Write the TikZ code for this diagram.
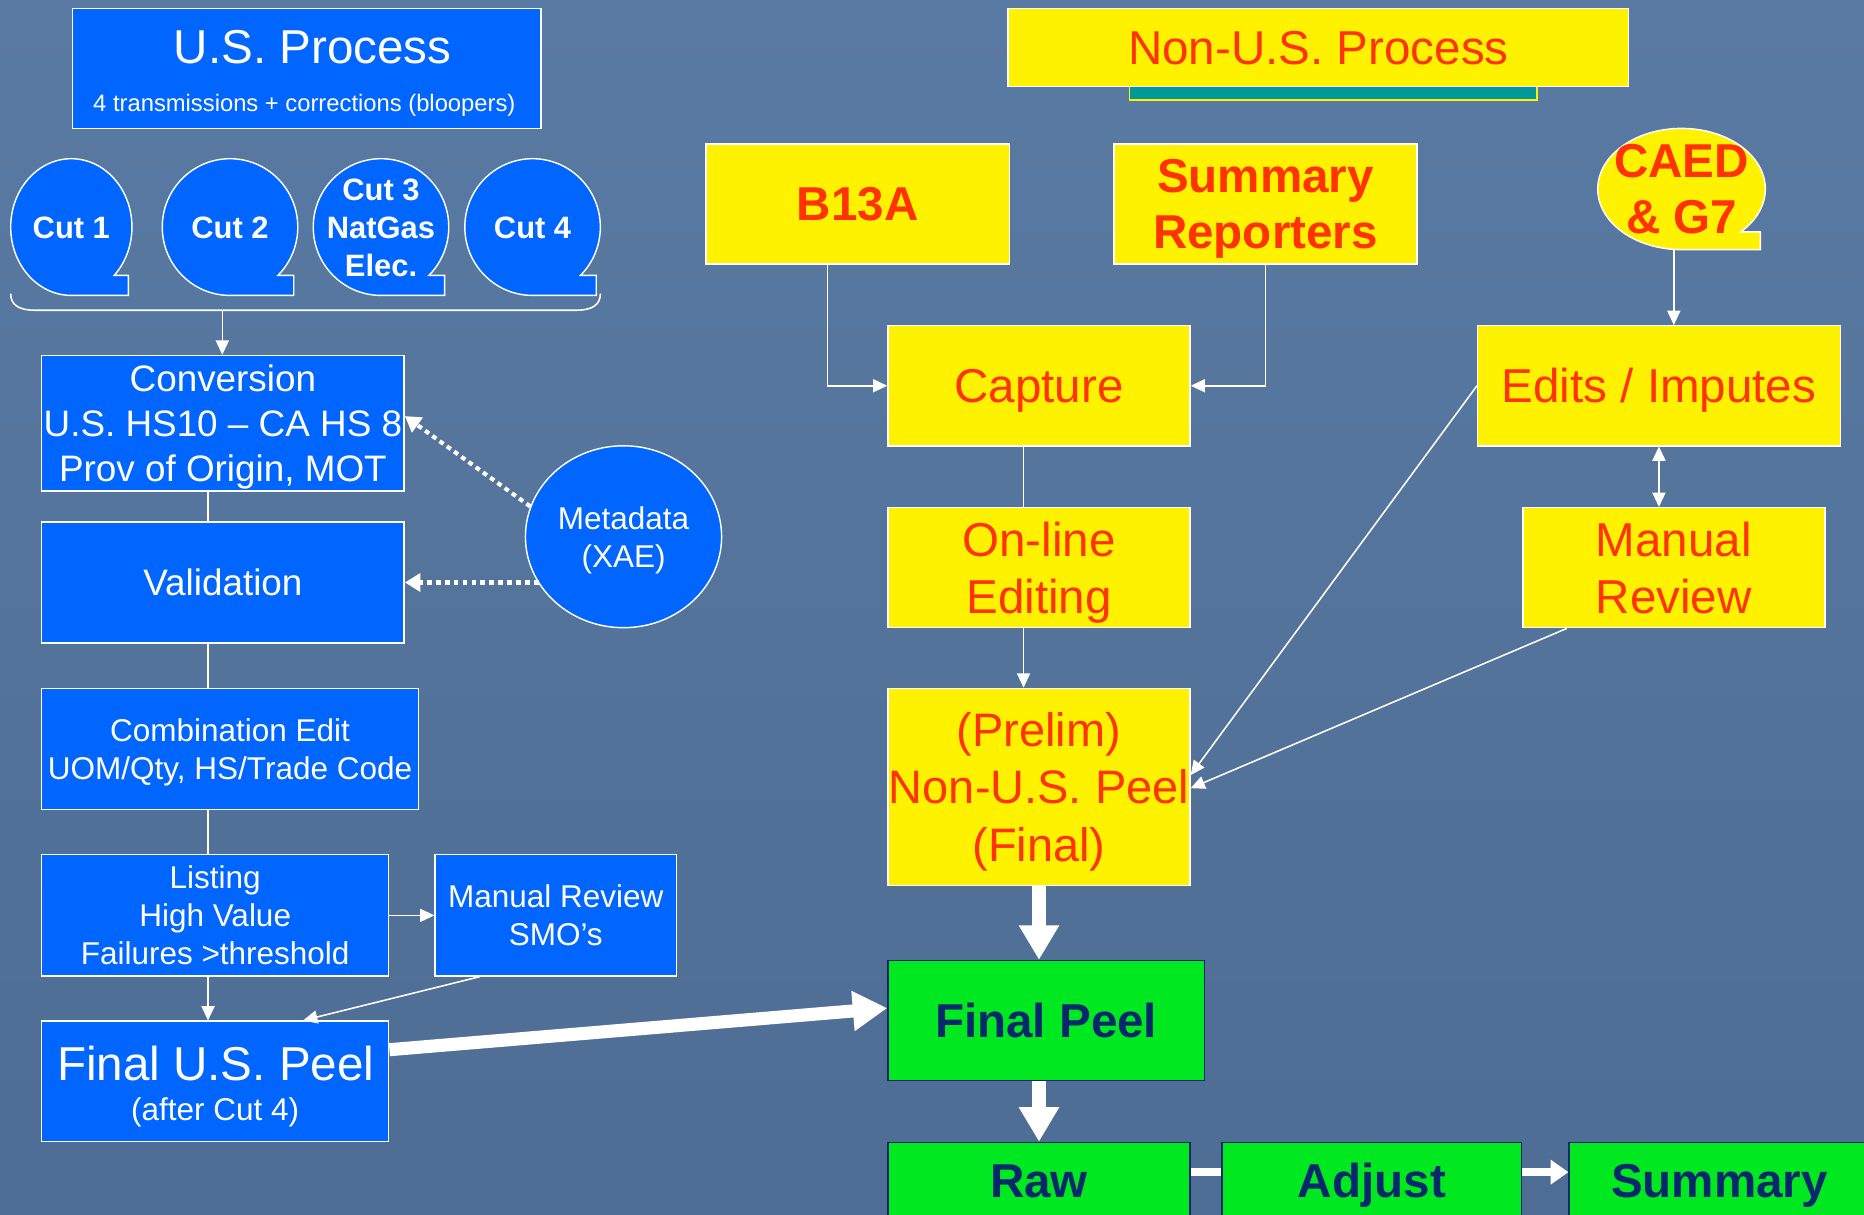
\documentclass[tikz,border=0pt]{standalone}
\usepackage{fontspec}
\setmainfont{Liberation Sans}
\usetikzlibrary{arrows.meta,shapes.geometric}

\definecolor{slidetop}{RGB}{89,122,162}
\definecolor{slidebot}{RGB}{78,109,149}
\definecolor{usblue}{RGB}{0,102,255}
\definecolor{nonusred}{RGB}{255,51,0}
\definecolor{peelgreen}{RGB}{0,232,32}
\definecolor{peelnavy}{RGB}{8,40,110}
\definecolor{barteal}{RGB}{0,153,153}

\begin{document}
\begin{tikzpicture}[x=1pt, y=-1pt,
  usbox/.style={rectangle, draw=white, line width=1.2pt, fill=usblue, text=white,
    align=center, inner sep=0pt, text depth=0pt, font=\fontsize{26.5}{32}\selectfont},
  ustext/.style={text=white, inner sep=0pt, align=center},
  nonusbox/.style={rectangle, draw=white, line width=1.2pt, fill=yellow, text=nonusred,
    align=center, inner sep=0pt, text depth=0pt, font=\fontsize{40}{48.5}\selectfont},
  boldred/.style={font=\bfseries\fontsize{40}{47}\selectfont},
  peelbox/.style={rectangle, draw=peelnavy, line width=1.2pt, fill=peelgreen, text=peelnavy,
    inner sep=0pt, text height=29pt, text depth=0pt, font=\bfseries\fontsize{40}{47}\selectfont},
  tapeshape/.style={draw=white, line width=1.2pt},
  wire/.style={white, line width=1.3pt},
  link/.style={wire, -{Triangle[length=12pt, width=11pt]}},
  duallink/.style={wire, {Triangle[length=12pt, width=11pt]}-{Triangle[length=12pt, width=11pt]}},
  dotlink/.style={white, line width=3.5pt, dash pattern=on 4pt off 3.5pt, -{Triangle[length=13pt, width=15pt]}},
  biglink/.style={white, line width=11pt, -{Triangle[length=29pt, width=32pt]}},
  midlink/.style={white, line width=6.5pt, -{Triangle[length=15pt, width=20pt]}}
]
\useasboundingbox (0,0) rectangle (1568,1022);
\shade[top color=slidetop, bottom color=slidebot] (0,0) rectangle (1568,1022);
\clip (0,0) rectangle (1568,1022);

% U.S. process
\node[usbox, minimum width=394, minimum height=101] (usproc) at (258,57.5) {};
\node[ustext, font=\fontsize{40}{48}\selectfont] (usproctitle) at (263,40) {U.S. Process};
\node[ustext, font=\fontsize{20}{24}\selectfont] (usprocsub) at (256,89) {4 transmissions + corrections (bloopers)};

\foreach \n/\cx/\rx/\txt in {cut1/60/51/{Cut 1}, cut2/193.5/57/{Cut 2},
    cut3/320.5/57/{Cut 3\\NatGas\\Elec.}, cut4/448/57/{Cut 4}} {
  \draw[tapeshape, fill=usblue] (\cx,191) ++(0,57.5)
    arc[start angle=90, end angle=405, x radius=\rx, y radius=57.5]
    -- ++({0.233*\rx},0) -- ++(0,16.8) -- cycle;
  \node[ustext, font=\bfseries\fontsize{26}{32}\selectfont] (\n) at (\cx,191.5) {\txt};
}
\coordinate (cutsbrace) at (187,261);
\draw[wire] (9,247) .. controls (9,256) and (15,261) .. (30,261) -- (484,261)
  .. controls (499,261) and (505,256) .. (505,247);

\node[usbox, minimum width=305, minimum height=114, font=\fontsize{31}{37.5}\selectfont] (conv) at (187.5,356)
  {Conversion\\U.S. HS10 – CA HS 8\\Prov of Origin, MOT};
\node[usbox, minimum width=305, minimum height=102, font=\fontsize{31}{37.5}\selectfont] (valid) at (187.5,490) {Validation};
\node[usbox, minimum width=317, minimum height=102] (combo) at (193.5,630) {Combination Edit\\UOM/Qty, HS/Trade Code};
\node[usbox, minimum width=292, minimum height=102] (listing) at (181,770) {Listing\\High Value\\Failures >threshold};
\node[usbox, minimum width=203, minimum height=102] (smo) at (467.5,770) {Manual Review\\SMO’s};
\node[usbox, minimum width=292, minimum height=101] (usfinal) at (181,909.5) {};
\node[ustext, font=\fontsize{40}{48}\selectfont] (usfinaltitle) at (181.5,894.5) {Final U.S. Peel};
\node[ustext, font=\fontsize{26.5}{32}\selectfont] (usfinalsub) at (181,936) {(after Cut 4)};
\node[usbox, ellipse, minimum width=165, minimum height=153] (meta) at (524.5,451.5) {Metadata\\(XAE)};

% Non-U.S. process
\node[fill=barteal, draw=yellow, line width=1.2pt, minimum width=343, minimum height=18, inner sep=0pt] (nonusbar) at (1121.5,75) {};
\node[nonusbox, minimum width=522, minimum height=66] (nonusproc) at (1109,40) {Non-U.S. Process};
\node[nonusbox, boldred, minimum width=255, minimum height=101] (b13a) at (721.5,171.5) {B13A};
\node[nonusbox, boldred, minimum width=255, minimum height=101] (sumrep) at (1064.5,171.5) {Summary\\Reporters};
\draw[tapeshape, fill=yellow] (1414.5,159) ++(0,51)
  arc[start angle=90, end angle=405, x radius=70.5, y radius=51]
  -- ++(16.4,0) -- ++(0,15) -- cycle;
\node[text=nonusred, boldred, align=center, inner sep=0pt, text depth=0pt, minimum width=141, minimum height=102] (caed) at (1414.5,159) {CAED\\\& G7};
\node[nonusbox, minimum width=254, minimum height=101] (capture) at (874,324.5) {Capture};
\node[nonusbox, minimum width=254, minimum height=101] (online) at (874,477.5) {On-line\\Editing};
\node[nonusbox, minimum width=254, minimum height=166, font=\fontsize{39.5}{48.5}\selectfont] (prelim) at (874,662) {(Prelim)\\Non-U.S. Peel\\(Final)};
\node[nonusbox, minimum width=305, minimum height=101] (edits) at (1395.5,324.5) {Edits / Imputes};
\node[nonusbox, minimum width=254, minimum height=101] (manrev) at (1408,477.5) {Manual\\Review};

% output
\node[peelbox, minimum width=266, minimum height=101] (finpeel) at (880,858.5) {Final Peel};
\node[peelbox, minimum width=254, minimum height=64] (raw) at (874,993) {Raw};
\node[peelbox, minimum width=252, minimum height=64] (adjust) at (1154,993) {Adjust};
\node[peelbox, minimum width=253, minimum height=64] (summary) at (1446.5,993) {Summary};

% connectors, U.S. side
\coordinate (spine) at (175,0);
\draw[link] (cutsbrace) -- (cutsbrace |- conv.north);
\draw[wire] (conv.south -| spine) -- (valid.north -| spine);
\draw[wire] (valid.south -| spine) -- (combo.north -| spine);
\draw[wire] (combo.south -| spine) -- (listing.north -| spine);
\draw[link] (listing.south -| spine) -- (usfinal.north -| spine);
\draw[link] (listing.east) -- (smo.west);
\draw[link] ([xshift=-64]smo.south) -- ([xshift=74]usfinal.north);
\draw[dotlink] (meta.162) -- ([yshift=6]conv.east);
\draw[dotlink] (meta.209 |- valid.east) -- (valid.east);

% connectors, Non-U.S. side
\draw[link] ([xshift=-25.5]b13a.south) |- (capture.west);
\draw[link] (sumrep.south) |- (capture.east);
\draw[wire] ([xshift=-13]capture.south) -- ([xshift=-13]online.north);
\draw[link] ([xshift=-13]online.south) -- ([xshift=-13]prelim.north);
\draw[link] ([xshift=-6.5]caed.south) -- ([xshift=-6.5]caed.south |- edits.north);
\draw[duallink] (edits.south) -- (edits.south |- manrev.north);
\draw[link] (edits.west) -- ([yshift=10]prelim.east);
\draw[link] ([xshift=-90]manrev.south) -- ([yshift=-1]prelim.east);

% to the final peel
\draw[biglink] ([yshift=26.5]usfinal.east) -- ([yshift=10.5]finpeel.west);
\draw[biglink] (prelim.south) -- (prelim.south |- finpeel.north);
\draw[biglink] (raw.north |- finpeel.south) -- (raw.north);
\draw[white, line width=6.5pt] ([yshift=7]raw.east) -- ([yshift=7]adjust.west);
\draw[midlink] ([yshift=7]adjust.east) -- ([yshift=7]summary.west);
\end{tikzpicture}
\end{document}
